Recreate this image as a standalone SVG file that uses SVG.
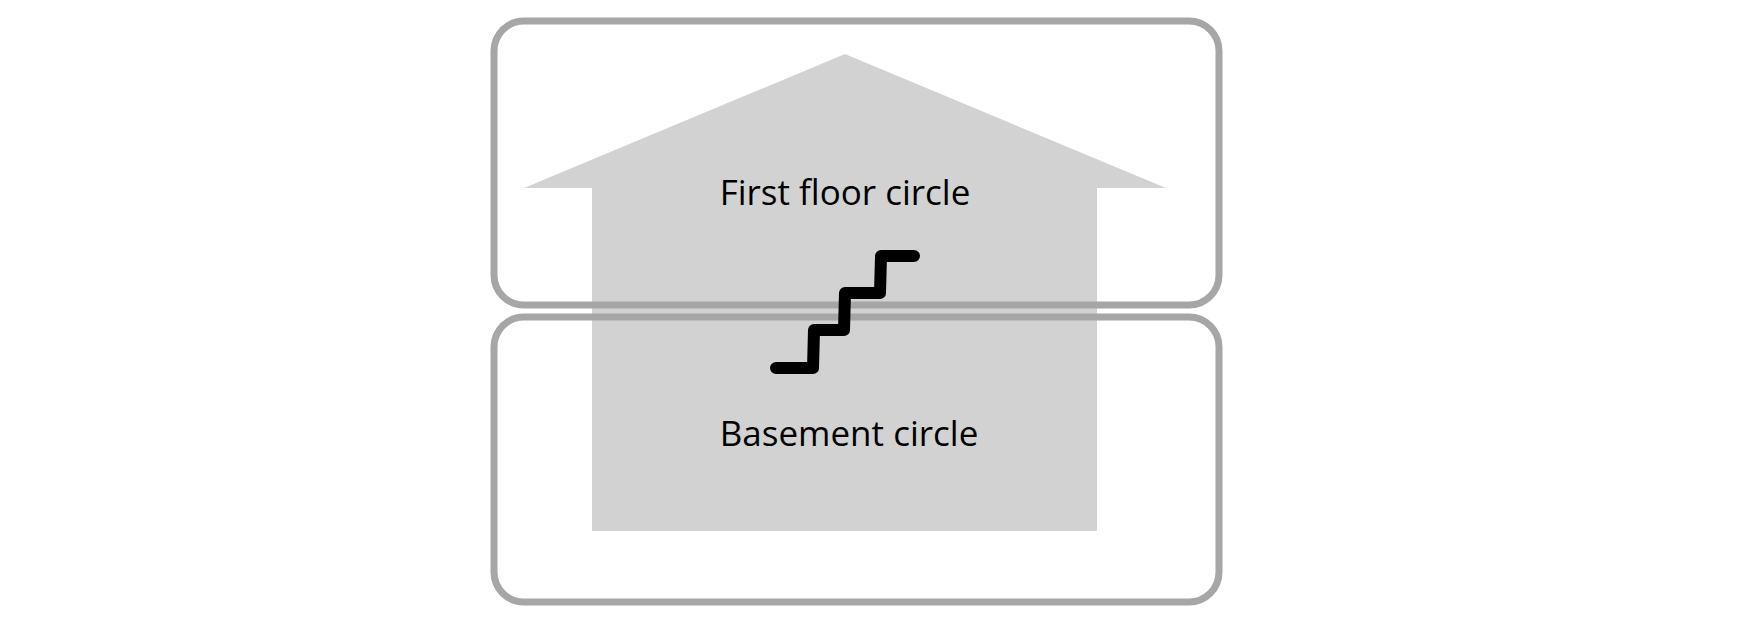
<svg xmlns="http://www.w3.org/2000/svg" width="1748" height="623" viewBox="0 0 1748 623">
<style>.f{fill:none;stroke:#a6a6a6;stroke-width:7}.t{font-family:"Open Sans","Noto Sans",sans-serif;font-size:35px;fill:#000;text-anchor:middle}</style>
<rect width="1748" height="623" fill="#fff"/>
<g id="house"><polygon points="845,54 1166,188 1097,188 1097,531 592,531 592,188 524,188" fill="#d2d2d2"/></g>
<g id="first-floor"><rect class="f" x="494" y="21" width="725" height="284" rx="30"/><text class="t" x="845" y="205">First floor circle</text></g>
<g id="basement"><rect class="f" x="494" y="317" width="725" height="285" rx="30"/><text class="t" x="849" y="446">Basement circle</text></g>
<g id="connectors"><polyline id="stairs" points="776,368 813,368 814,330 844,330 845,293 880,293 881,256 914,256" fill="none" stroke="#000" stroke-width="12" stroke-linecap="round" stroke-linejoin="round"/></g>
</svg>
